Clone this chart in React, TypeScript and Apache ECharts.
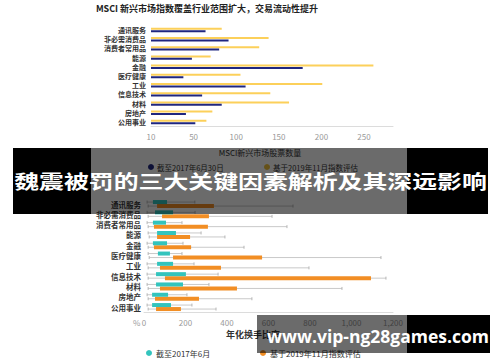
import React, { useEffect, useRef } from "react";
import * as echarts from "echarts";

const topCategories = ["通讯服务", "非必需消费品", "消费者常用品", "能源", "金融", "医疗健康", "工业", "信息技术", "材料", "房地产", "公用事业"];
const topCount2017 = [64, 91, 80, 48, 178, 38, 111, 60, 83, 41, 52];
const topCount2019 = [83, 138, 127, 70, 261, 105, 201, 140, 162, 72, 65];
const topTickLabels: Record<number, string> = { 0: "10", 50: "50", 100: "100", 150: "150", 200: "200", 250: "250" };

const bottomCategories = ["通讯服务", "非必需消费品", "消费者常用品", "能源", "金融", "医疗健康", "工业", "信息技术", "材料", "房地产", "公用事业"];
// [min, boxLow, boxHigh, max]
const turnover2017 = [
  [15, 43, 111, 245],
  [15, 53, 140, 246],
  [15, 43, 106, 183],
  [20, 63, 154, 275],
  [15, 43, 111, 188],
  [20, 67, 125, 183],
  [15, 63, 140, 241],
  [15, 58, 202, 357],
  [15, 58, 188, 313],
  [15, 39, 116, 207],
  [15, 39, 130, 231],
];
const turnover2019 = [
  [20, 63, 337, 718],
  [20, 87, 313, 617],
  [20, 48, 308, 689],
  [25, 63, 222, 390],
  [20, 48, 227, 482],
  [25, 140, 569, 1142],
  [20, 77, 371, 795],
  [20, 101, 1094, 1166],
  [20, 77, 448, 954],
  [20, 53, 265, 520],
  [20, 58, 178, 347],
];

const NAVY = "#1f2680";
const YELLOW = "#fcd05a";
const TEAL = "#33c4bd";
const ORANGE = "#f28e24";
const FONT = "'Noto Sans CJK SC', 'Noto Sans', sans-serif";

function makeRender(offset: number, color: string) {
  return (params: any, api: any) => {
    const cat = api.value(0);
    const pMin = api.coord([api.value(1), cat]);
    const pLo = api.coord([api.value(2), cat]);
    const pHi = api.coord([api.value(3), cat]);
    const pMax = api.coord([api.value(4), cat]);
    const y = pMin[1] + offset;
    return {
      type: "group",
      children: [
        { type: "line", shape: { x1: pMin[0], y1: y, x2: pMax[0], y2: y }, style: { stroke: "#c9c9c9", lineWidth: 1 } },
        { type: "line", shape: { x1: pMin[0], y1: y - 1.5, x2: pMin[0], y2: y + 1.5 }, style: { stroke: "#b5b5b5", lineWidth: 1 } },
        { type: "line", shape: { x1: pMax[0], y1: y - 1.5, x2: pMax[0], y2: y + 1.5 }, style: { stroke: "#b5b5b5", lineWidth: 1 } },
        { type: "rect", shape: { x: pLo[0], y: y - 2, width: pHi[0] - pLo[0], height: 4 }, style: { fill: color } },
      ],
    };
  };
}

export default function App() {
  const ref = useRef<HTMLDivElement>(null);
  useEffect(() => {
    if (!ref.current) return;
    const chart = echarts.init(ref.current, null, { renderer: "svg" });
    const option: any = {
      animation: false,
      textStyle: { fontFamily: FONT },
      grid: [
        { left: 151, right: 107, top: 25.4, height: 101.2 },
        { left: 144, right: 107, top: 198.9, height: 113.3 },
      ],
      xAxis: [
        {
          gridIndex: 0,
          type: "value",
          min: 0,
          max: 284,
          interval: 50,
          axisLine: { show: true, lineStyle: { color: "#dcdcdc" } },
          axisTick: { show: false },
          splitLine: { show: false },
          axisLabel: { color: "#9a9a9a", fontSize: 8, margin: 6, formatter: (v: number) => topTickLabels[v] ?? "" },
        },
        {
          gridIndex: 1,
          type: "value",
          min: 0,
          max: 1200,
          interval: 200,
          axisLine: { show: true, lineStyle: { color: "#dcdcdc" } },
          axisTick: { show: false },
          splitLine: { show: false },
          axisLabel: { color: "#9a9a9a", fontSize: 8, margin: 6 },
        },
      ],
      yAxis: [
        {
          gridIndex: 0,
          type: "category",
          inverse: true,
          data: topCategories,
          axisLine: { show: false },
          axisTick: { show: false },
          axisLabel: { interval: 0, color: "#333", fontSize: 7, fontWeight: "bold", margin: 5 },
        },
        {
          gridIndex: 1,
          type: "category",
          inverse: true,
          data: bottomCategories,
          axisLine: { show: false },
          axisTick: { show: false },
          axisLabel: { interval: 0, color: "#333", fontSize: 7.5, fontWeight: "bold", margin: 3 },
        },
      ],
      series: [
        { name: "基于2019年11月指数评估", type: "bar", xAxisIndex: 0, yAxisIndex: 0, data: topCount2019, barWidth: 2, barGap: "20%", itemStyle: { color: YELLOW } },
        { name: "截至2017年6月30日", type: "bar", xAxisIndex: 0, yAxisIndex: 0, data: topCount2017, barWidth: 2, barGap: "20%", itemStyle: { color: NAVY } },
        {
          name: "基于2019年11月指数评估 ",
          type: "custom",
          xAxisIndex: 1,
          yAxisIndex: 1,
          renderItem: makeRender(2, ORANGE),
          encode: { x: [1, 2, 3, 4], y: 0 },
          data: turnover2019.map((d, i) => [i, ...d]),
        },
        {
          name: "截至2017年6月",
          type: "custom",
          xAxisIndex: 1,
          yAxisIndex: 1,
          renderItem: makeRender(-2, TEAL),
          encode: { x: [1, 2, 3, 4], y: 0 },
          data: turnover2017.map((d, i) => [i, ...d]),
        },
      ],
      graphic: [
        { type: "text", x: 207, y: 8, style: { text: "MSCI 新兴市场指数覆盖行业范围扩大，交易流动性提升", fontSize: 9, fontWeight: "bold", fill: "#222", align: "center", verticalAlign: "middle", fontFamily: FONT } },
        { type: "text", x: 260, y: 152, style: { text: "MSCI新兴市场股票数量", fontSize: 8, fill: "#333", align: "center", verticalAlign: "middle", fontFamily: FONT } },
        { type: "circle", shape: { cx: 151, cy: 167, r: 3 }, style: { fill: NAVY } },
        { type: "text", x: 157, y: 167, style: { text: "截至2017年6月30日", fontSize: 7.5, fill: "#333", verticalAlign: "middle", fontFamily: FONT } },
        { type: "circle", shape: { cx: 267, cy: 167, r: 3 }, style: { fill: "#f0c23a" } },
        { type: "text", x: 273, y: 167, style: { text: "基于2019年11月指数评估", fontSize: 7.5, fill: "#333", verticalAlign: "middle", fontFamily: FONT } },
        { type: "text", x: 133, y: 322, style: { text: "%", fontSize: 8, fill: "#9a9a9a", verticalAlign: "middle", fontFamily: FONT } },
        { type: "text", x: 253, y: 334, style: { text: "年化换手比率", fontSize: 9, fontWeight: "bold", fill: "#333", align: "center", verticalAlign: "middle", fontFamily: FONT } },
        { type: "circle", shape: { cx: 149, cy: 353, r: 3 }, style: { fill: TEAL } },
        { type: "text", x: 156, y: 353, style: { text: "截至2017年6月", fontSize: 8, fill: "#333", verticalAlign: "middle", fontFamily: FONT } },
        { type: "circle", shape: { cx: 263, cy: 353, r: 3 }, style: { fill: ORANGE } },
        { type: "text", x: 270, y: 353, style: { text: "基于2019年11月指数评估", fontSize: 8, fill: "#333", verticalAlign: "middle", fontFamily: FONT } },
        // banner overlay
        { type: "rect", z: 100, shape: { x: 13, y: 148, width: 78, height: 66 }, style: { fill: "#000" } },
        { type: "rect", z: 100, shape: { x: 91, y: 148, width: 316, height: 66 }, style: { fill: "rgba(0,0,0,0.58)" } },
        { type: "rect", z: 100, shape: { x: 407, y: 148, width: 81, height: 66 }, style: { fill: "#000" } },
        { type: "text", z: 101, x: 250.5, y: 180, scaleX: 1.31, style: { text: "魏震被罚的三大关键因素解析及其深远影响", fontSize: 19, fontWeight: "bold", fill: "#fff", align: "center", verticalAlign: "middle", fontFamily: FONT } },
        // watermark overlay
        { type: "rect", z: 100, shape: { x: 257, y: 315, width: 150, height: 38 }, style: { fill: "rgba(0,0,0,0.58)" } },
        { type: "rect", z: 100, shape: { x: 407, y: 315, width: 83, height: 38 }, style: { fill: "#000" } },
        { type: "text", z: 101, x: 267, y: 336, style: { text: "www.vip-ng28games.com", fontSize: 17.5, fontWeight: "bold", fill: "#fff", verticalAlign: "middle", fontFamily: "'Open Sans', sans-serif" } },
      ],
    };
    chart.setOption(option);
    return () => chart.dispose();
  }, []);
  return <div ref={ref} style={{ position: "fixed", left: 0, top: 0, width: 500, height: 362, background: "#fff" }} />;
}
